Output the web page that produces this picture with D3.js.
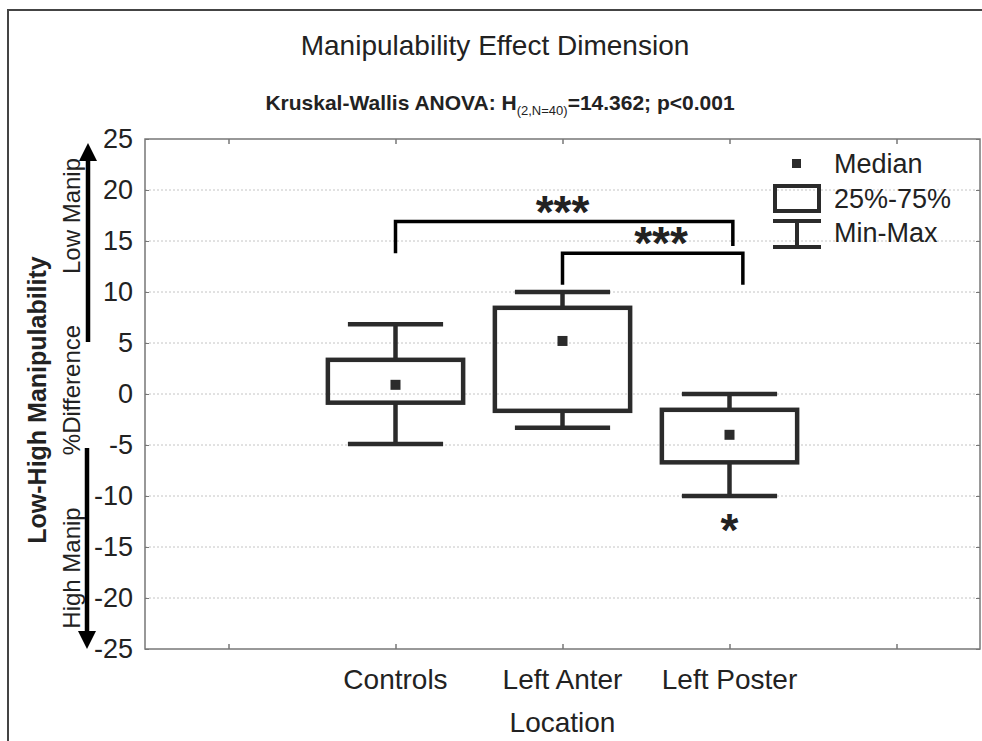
<!DOCTYPE html>
<html>
<head>
<meta charset="utf-8">
<script src="https://cdn.jsdelivr.net/npm/d3@7"></script>
<style>
  body { margin: 0; background: #fff; }
  text { font-family: "Liberation Sans", Arial, sans-serif; fill: #222; }
</style>
</head>
<body>
<div id="chart"></div>
<script>
// data
var categories = ["Controls", "Left Anter", "Left Poster"]
var catPos = [1, 2, 3]
var mins = [-4.9, -3.3, -10.0]
var q1s = [-0.85, -1.65, -6.7]
var medians = [0.9, 5.2, -4.0]
var q3s = [3.35, 8.45, -1.55]
var maxs = [6.85, 10.0, 0.0]
var yTicks = [25, 20, 15, 10, 5, 0, -5, -10, -15, -20, -25]
var xTicks = [0, 1, 2, 3, 4]

// significance brackets (x in category units, y in % units)
var brackets = [
  {x1: 1, x2: 3.02, top: 16.9, leg1: 13.8, leg2: 14.5, label: "***", labelX: 2.0, labelY: 18.3},
  {x1: 2, x2: 3.08, top: 13.8, leg1: 10.7, leg2: 10.7, label: "***", labelX: 2.59, labelY: 15.2}
]
var singleStar = {x: 3, y: -12.9, label: "*"}

var width = 982, height = 741
var box = {left: 145, right: 980, top: 139, bottom: 649}
var ink = "#2b2b2b"

var svg = d3.select("#chart").append("svg")
  .attr("width", width)
  .attr("height", height)

// outer frame
svg.append("rect")
  .attr("x", 8).attr("y", 10)
  .attr("width", 1000).attr("height", 800)
  .attr("fill", "none").attr("stroke", "#444").attr("stroke-width", 2)

var x = d3.scaleLinear().domain([-0.5, 4.5]).range([box.left, box.right])
var y = d3.scaleLinear().domain([-25, 25]).range([box.bottom, box.top])

// grid
svg.append("g").selectAll("line")
  .data(yTicks.filter(d => d != 25 && d != -25))
  .enter().append("line")
  .attr("x1", box.left).attr("x2", box.right)
  .attr("y1", d => y(d)).attr("y2", d => y(d))
  .attr("stroke", "#c4c4c4").attr("stroke-width", 1)
  .attr("stroke-dasharray", "2,2")

// axes
var yAxis = svg.append("g")
  .attr("transform", "translate(" + box.left + ",0)")
  .call(d3.axisLeft(y).tickValues(yTicks).tickSize(-4).tickPadding(12).tickFormat(d => String(d)))
yAxis.select(".domain").remove()
yAxis.selectAll("line").attr("stroke", "#777")
yAxis.selectAll("text").attr("font-size", 27).style("font-family", "Liberation Sans, Arial").attr("fill", "#222")

var yAxisR = svg.append("g")
  .attr("transform", "translate(" + box.right + ",0)")
  .call(d3.axisRight(y).tickValues(yTicks).tickSize(-4).tickFormat(""))
yAxisR.select(".domain").remove()
yAxisR.selectAll("line").attr("stroke", "#777")

var xAxisB = svg.append("g")
  .attr("transform", "translate(0," + box.bottom + ")")
  .call(d3.axisBottom(x).tickValues(xTicks).tickSize(-5).tickFormat(""))
xAxisB.select(".domain").remove()
xAxisB.selectAll("line").attr("stroke", "#777").attr("stroke-width", 1.5)

var xAxisT = svg.append("g")
  .attr("transform", "translate(0," + box.top + ")")
  .call(d3.axisTop(x).tickValues(xTicks).tickSize(-5).tickFormat(""))
xAxisT.select(".domain").remove()
xAxisT.selectAll("line").attr("stroke", "#777").attr("stroke-width", 1.5)

svg.append("rect")
  .attr("x", box.left).attr("y", box.top)
  .attr("width", box.right - box.left).attr("height", box.bottom - box.top)
  .attr("fill", "none").attr("stroke", "#777").attr("stroke-width", 1.5)

// category labels
svg.append("g").selectAll("text")
  .data(categories)
  .enter().append("text")
  .attr("x", (d, i) => x(catPos[i]))
  .attr("y", 689)
  .attr("text-anchor", "middle")
  .attr("font-size", 28)
  .text(d => d)

svg.append("text")
  .attr("x", x(2)).attr("y", 732)
  .attr("text-anchor", "middle").attr("font-size", 28)
  .text("Location")

// titles
svg.append("text")
  .attr("x", 495).attr("y", 55)
  .attr("text-anchor", "middle").attr("font-size", 28)
  .text("Manipulability Effect Dimension")

var sub = svg.append("text")
  .attr("x", 500).attr("y", 110)
  .attr("text-anchor", "middle").attr("font-size", 21).attr("font-weight", "bold")
sub.append("tspan").text("Kruskal-Wallis ANOVA: H")
sub.append("tspan").attr("font-size", 13).attr("font-weight", "normal").attr("dy", 5).text("(2,N=40)")
sub.append("tspan").attr("dy", -5).text("=14.362; p<0.001")

// y labels
svg.append("text")
  .attr("transform", "translate(46,400) rotate(-90)")
  .attr("text-anchor", "middle").attr("font-size", 25).attr("font-weight", "bold")
  .text("Low-High Manipulability")

var sideLabels = [
  {text: "Low Manip", cy: 216},
  {text: "%Difference", cy: 390},
  {text: "High Manip", cy: 568}
]
svg.append("g").selectAll("text")
  .data(sideLabels)
  .enter().append("text")
  .attr("transform", d => "translate(80," + d.cy + ") rotate(-90)")
  .attr("text-anchor", "middle").attr("font-size", 24)
  .text(d => d.text)

// arrows
var defs = svg.append("defs")
defs.append("marker")
  .attr("id", "head")
  .attr("viewBox", "0 0 10 10")
  .attr("refX", 5).attr("refY", 5)
  .attr("markerWidth", 4).attr("markerHeight", 4)
  .attr("markerUnits", "strokeWidth")
  .attr("orient", "auto")
  .append("path").attr("d", "M0,0 L10,5 L0,10 Z").attr("fill", "#000")

svg.append("line")
  .attr("x1", 88).attr("x2", 88).attr("y1", 342).attr("y2", 152)
  .attr("stroke", "#000").attr("stroke-width", 4.5).attr("marker-end", "url(#head)")
svg.append("line")
  .attr("x1", 87).attr("x2", 87).attr("y1", 448).attr("y2", 640)
  .attr("stroke", "#000").attr("stroke-width", 4.5).attr("marker-end", "url(#head)")

// box plots
var boxW = 0.81, capW = 0.57
var g = svg.append("g").attr("stroke", ink).attr("stroke-width", 4.5).attr("fill", "none")

categories.forEach(function(c, i){
  var cx = x(catPos[i])
  var halfBox = (x(boxW) - x(0)) / 2
  var halfCap = (x(capW) - x(0)) / 2
  // whiskers
  g.append("line").attr("x1", cx).attr("x2", cx).attr("y1", y(maxs[i])).attr("y2", y(q3s[i]))
  g.append("line").attr("x1", cx).attr("x2", cx).attr("y1", y(q1s[i])).attr("y2", y(mins[i]))
  g.append("line").attr("x1", cx - halfCap).attr("x2", cx + halfCap).attr("y1", y(maxs[i])).attr("y2", y(maxs[i]))
  g.append("line").attr("x1", cx - halfCap).attr("x2", cx + halfCap).attr("y1", y(mins[i])).attr("y2", y(mins[i]))
  g.append("rect")
    .attr("x", cx - halfBox).attr("y", y(q3s[i]))
    .attr("width", halfBox * 2).attr("height", y(q1s[i]) - y(q3s[i]))
  svg.append("rect")
    .attr("x", cx - 5).attr("y", y(medians[i]) - 5)
    .attr("width", 10).attr("height", 10)
    .attr("fill", ink)
})

// brackets
var starSize = 46
var starShift = 0.44
brackets.forEach(function(b){
  svg.append("path")
    .attr("d", "M" + x(b.x1) + "," + y(b.leg1) + " V" + y(b.top) + " H" + x(b.x2) + " V" + y(b.leg2))
    .attr("fill", "none").attr("stroke", "#000").attr("stroke-width", 3.5)
  svg.append("text")
    .attr("x", x(b.labelX)).attr("y", y(b.labelY) + starSize * starShift)
    .attr("text-anchor", "middle").attr("font-size", starSize).attr("font-weight", "bold")
    .attr("fill", "#000")
    .text(b.label)
})

svg.append("text")
  .attr("x", x(singleStar.x)).attr("y", y(singleStar.y) + starSize * starShift)
  .attr("text-anchor", "middle").attr("font-size", starSize).attr("font-weight", "bold")
  .attr("fill", "#000")
  .text(singleStar.label)

// legend
var lg = svg.append("g")
lg.append("rect").attr("x", 792).attr("y", 159).attr("width", 9).attr("height", 9).attr("fill", ink)
lg.append("rect").attr("x", 775).attr("y", 186).attr("width", 44).attr("height", 25)
  .attr("fill", "none").attr("stroke", ink).attr("stroke-width", 4)
lg.append("path").attr("d", "M773,221 H821 M797,221 V247 M773,247 H821")
  .attr("fill", "none").attr("stroke", ink).attr("stroke-width", 4)
var legendLabels = [
  {text: "Median", y: 173},
  {text: "25%-75%", y: 208},
  {text: "Min-Max", y: 242}
]
lg.selectAll("text")
  .data(legendLabels)
  .enter().append("text")
  .attr("x", 834).attr("y", d => d.y)
  .attr("font-size", 27)
  .text(d => d.text)
</script>
</body>
</html>
